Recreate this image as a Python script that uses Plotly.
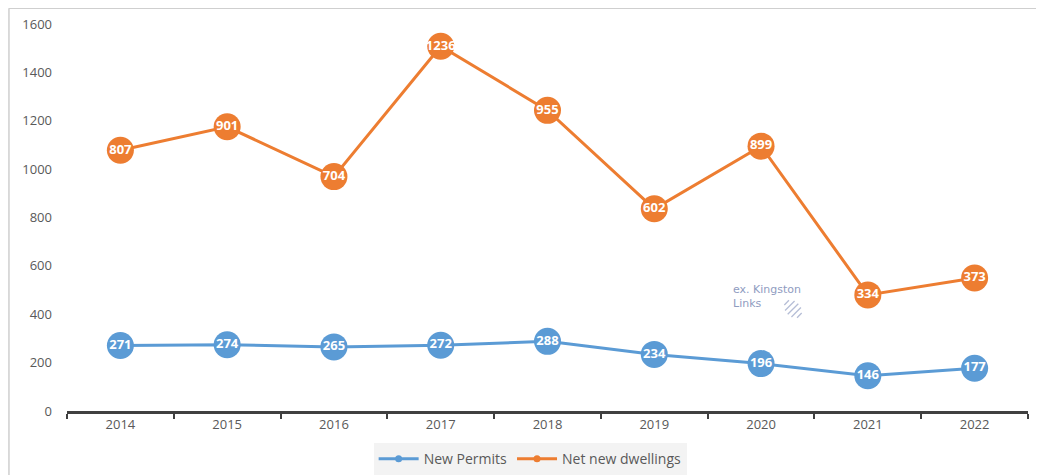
import plotly.graph_objects as go

years = ["2014", "2015", "2016", "2017", "2018", "2019", "2020", "2021", "2022"]
new_permits = [271, 274, 265, 272, 288, 234, 196, 146, 177]
net_new_dwellings = [807, 901, 704, 1236, 955, 602, 899, 334, 373]
y_ticks = [0, 200, 400, 600, 800, 1000, 1200, 1400, 1600]

BLUE = "#5b9bd5"
ORANGE = "#ed7d31"
FONT = "Open Sans"

series = [("New Permits", new_permits, BLUE),
          ("Net new dwellings", net_new_dwellings, ORANGE)]

fig = go.Figure()
for name, vals, col in series:
    fig.add_trace(go.Scatter(
        x=years, y=vals, name=name, stackgroup="s", fill="none",
        mode="lines+markers+text", showlegend=False, legendgroup=name,
        line=dict(color=col, width=3),
        marker=dict(color=col, size=27, line=dict(width=0)),
        text=[str(v) for v in vals], textposition="middle center",
        textfont=dict(family=FONT, size=13, color="white", weight="bold"),
        hoverinfo="x+text",
    ))
# legend entries (small marker on a line, as in the reference)
for name, vals, col in series:
    fig.add_trace(go.Scatter(
        x=[None], y=[None], name=name, legendgroup=name, mode="lines+markers",
        line=dict(color=col, width=3), marker=dict(color=col, size=7),
        showlegend=True, hoverinfo="skip",
    ))

# page body adds an 8px offset, so the figure is sized 8px smaller
W, H = 1036, 467
fig.update_layout(
    width=W, height=H,
    margin=dict(l=59, r=16, t=16, b=64, autoexpand=False),
    paper_bgcolor="white", plot_bgcolor="white",
    font=dict(family=FONT, size=13, color="#595959"),
    showlegend=True,
    legend=dict(orientation="h", xref="container", yref="container",
                x=0.504, xanchor="center", y=0.068, yanchor="top",
                bgcolor="#f3f3f3", font=dict(size=14, color="#595959"),
                traceorder="normal", itemwidth=40),
    xaxis=dict(type="category", range=[-0.5, 8.5], showgrid=False,
               showline=True, linecolor="#404040", linewidth=2.5,
               ticks="outside", tickson="boundaries", ticklen=5, tickwidth=2,
               tickcolor="#404040", tickfont=dict(size=13, color="#595959"),
               zeroline=False, fixedrange=True),
    yaxis=dict(range=[0, 1600], tickvals=y_ticks, showgrid=False, showline=False,
               zeroline=False, ticks="", tickfont=dict(size=13, color="#595959"),
               ticklabelstandoff=14),
)

# outer frame (top and left borders)
fig.add_shape(type="line", xref="paper", yref="paper", x0=-0.0604, x1=1.03,
              y0=1.041, y1=1.041, line=dict(color="#cfcfcf", width=1.5))
fig.add_shape(type="line", xref="paper", yref="paper", x0=-0.0604, x1=-0.0604,
              y0=1.041, y1=-0.2, line=dict(color="#cfcfcf", width=1.5))

# watermark
fig.add_annotation(xref="paper", yref="paper", x=0.691, y=0.295, xanchor="left", yanchor="middle",
                   text="ex. Kingston<br>Links", showarrow=False, align="left",
                   font=dict(family="DejaVu Sans", size=11, color="#8f9cbf"))
px_w, px_h = 961.0, 387.0
cx, cy = 726.0, 102.0
for k in range(-2, 3):
    off = k * 4.5
    half = (100 - off * off) ** 0.5 * 0.75
    x0 = cx + off * 0.707 - half * 0.707
    y0 = cy - off * 0.707 - half * 0.707
    x1 = cx + off * 0.707 + half * 0.707
    y1 = cy - off * 0.707 + half * 0.707
    fig.add_shape(type="line", xref="paper", yref="paper",
                  x0=x0 / px_w, x1=x1 / px_w, y0=y0 / px_h, y1=y1 / px_h,
                  line=dict(color="#b5bdd6", width=1.3))

fig.write_html("out.html")
